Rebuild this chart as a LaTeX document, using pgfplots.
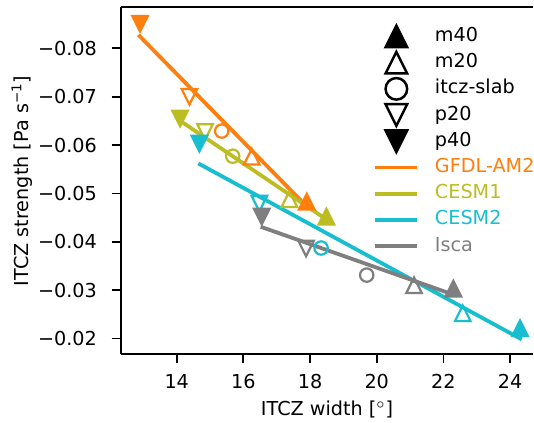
\documentclass[border=0pt]{standalone}
\usepackage{pgfplots}
\pgfplotsset{compat=1.18}
\usepackage{fontspec}
\setmainfont{DejaVu Sans}
\usetikzlibrary{calc}

\definecolor{gfdl}{HTML}{FF7F0E}
\definecolor{cesmone}{HTML}{BCBD22}
\definecolor{cesmtwo}{HTML}{17BECF}
\definecolor{isca}{HTML}{7F7F7F}

% matplotlib-like triangles (bbox centred, width = height)
\pgfdeclareplotmark{tu}{%
  \pgfpathmoveto{\pgfqpoint{0pt}{\pgfplotmarksize}}%
  \pgfpathlineto{\pgfqpoint{-\pgfplotmarksize}{-\pgfplotmarksize}}%
  \pgfpathlineto{\pgfqpoint{\pgfplotmarksize}{-\pgfplotmarksize}}%
  \pgfpathclose\pgfusepathqstroke}
\pgfdeclareplotmark{tu*}{%
  \pgfpathmoveto{\pgfqpoint{0pt}{\pgfplotmarksize}}%
  \pgfpathlineto{\pgfqpoint{-\pgfplotmarksize}{-\pgfplotmarksize}}%
  \pgfpathlineto{\pgfqpoint{\pgfplotmarksize}{-\pgfplotmarksize}}%
  \pgfpathclose\pgfusepathqfillstroke}
\pgfdeclareplotmark{td}{%
  \pgfpathmoveto{\pgfqpoint{0pt}{-\pgfplotmarksize}}%
  \pgfpathlineto{\pgfqpoint{-\pgfplotmarksize}{\pgfplotmarksize}}%
  \pgfpathlineto{\pgfqpoint{\pgfplotmarksize}{\pgfplotmarksize}}%
  \pgfpathclose\pgfusepathqstroke}
\pgfdeclareplotmark{td*}{%
  \pgfpathmoveto{\pgfqpoint{0pt}{-\pgfplotmarksize}}%
  \pgfpathlineto{\pgfqpoint{-\pgfplotmarksize}{\pgfplotmarksize}}%
  \pgfpathlineto{\pgfqpoint{\pgfplotmarksize}{\pgfplotmarksize}}%
  \pgfpathclose\pgfusepathqfillstroke}

\pgfplotsset{
  pt/.style={only marks, forget plot, mark size=3.9pt, line width=1.1pt,
    color=#1, mark options={solid, fill=#1}},
  fit/.style={forget plot, no marks, line width=1.9pt, color=#1},
  mk/.style={legend image code/.code={%
    \draw[line width=1.25pt, mark size=5.4pt, ##1] plot[only marks] coordinates {(10.5pt,0pt)};}},
  ln/.style={legend image code/.code={%
    \draw[##1, line width=1.9pt] (0pt,0pt) -- (21pt,0pt);}},
}

\begin{document}
\begin{tikzpicture}
\begin{axis}[
    scale only axis,
    width=206.3pt, height=173.5pt,
    xmin=12.32, xmax=24.7,
    ymin=-0.0885, ymax=-0.0167,
    y dir=reverse,
    axis y line*=left,
    tick pos=left,
    tick align=outside,
    major tick length=4.5pt,
    axis line style={line width=0.9pt},
    tick style={line width=0.9pt, black},
    font=\fontsize{9.6}{11.5}\selectfont,
    xtick={14,16,...,24},
    ytick={-0.08,-0.07,-0.06,-0.05,-0.04,-0.03,-0.02},
    yticklabels={−0.08,−0.07,−0.06,−0.05,−0.04,−0.03,−0.02},
    /pgf/number format/assume math mode=true,
    xticklabel style={anchor=north, inner sep=0pt, yshift=-5.4pt},
    yticklabel style={anchor=east, inner sep=0pt, xshift=-7.2pt},
    xlabel={ITCZ width [$^\circ$]},
    ylabel={ITCZ strength [Pa s\textsuperscript{−1}]},
    xlabel style={at={(axis description cs:0.5,-0.16)}, anchor=center},
    ylabel style={at={(axis description cs:-0.239,0.5)}, anchor=center},
    legend style={at={(axis description cs:0.6115,0.955)}, anchor=north west,
      draw=none, fill=none, inner sep=0pt, column sep=7.85pt, row sep=0pt,
      nodes={inner sep=0pt, text height=9.1pt, text depth=4pt}},
    legend cell align=left,
]

% GFDL-AM2
\addplot[fit=gfdl] coordinates {(12.85,-0.0828) (17.94,-0.0470)};
\addplot[pt=gfdl, mark=tu*] coordinates {(17.90,-0.0483)};
\addplot[pt=gfdl, mark=tu]  coordinates {(16.25,-0.0576)};
\addplot[pt=gfdl, mark=o, mark size=3.35pt] coordinates {(15.35,-0.0629)};
\addplot[pt=gfdl, mark=td]  coordinates {(14.38,-0.0700)};
\addplot[pt=gfdl, mark=td*] coordinates {(12.90,-0.0851)};

% CESM1
\addplot[fit=cesmone] coordinates {(14.15,-0.0648) (18.45,-0.0448)};
\addplot[pt=cesmone, mark=tu*] coordinates {(18.49,-0.0452)};
\addplot[pt=cesmone, mark=tu]  coordinates {(17.38,-0.0488)};
\addplot[pt=cesmone, mark=o, mark size=3.35pt] coordinates {(15.68,-0.0577)};
\addplot[pt=cesmone, mark=td]  coordinates {(14.85,-0.0627)};
\addplot[pt=cesmone, mark=td*] coordinates {(14.10,-0.0655)};

% CESM2
\addplot[fit=cesmtwo] coordinates {(14.65,-0.0562) (24.35,-0.0198)};
\addplot[pt=cesmtwo, mark=tu*] coordinates {(24.30,-0.0221)};
\addplot[pt=cesmtwo, mark=tu]  coordinates {(22.58,-0.0252)};
\addplot[pt=cesmtwo, mark=o, mark size=3.35pt] coordinates {(18.33,-0.0387)};
\addplot[pt=cesmtwo, mark=td]  coordinates {(16.48,-0.0479)};
\addplot[pt=cesmtwo, mark=td*] coordinates {(14.68,-0.0603)};

% Isca
\addplot[fit=isca] coordinates {(16.52,-0.0431) (22.20,-0.0293)};
\addplot[pt=isca, mark=tu*] coordinates {(22.30,-0.0303)};
\addplot[pt=isca, mark=tu]  coordinates {(21.12,-0.0310)};
\addplot[pt=isca, mark=o, mark size=3.35pt] coordinates {(19.70,-0.0331)};
\addplot[pt=isca, mark=td]  coordinates {(17.88,-0.0386)};
\addplot[pt=isca, mark=td*] coordinates {(16.55,-0.0452)};

% legend
\addlegendimage{mk, black, mark=tu*, fill=black}
\addlegendentry{m40}
\addlegendimage{mk, black, mark=tu}
\addlegendentry{m20}
\addlegendimage{mk, black, mark=o, mark size=4.8pt}
\addlegendentry{itcz-slab}
\addlegendimage{mk, black, mark=td}
\addlegendentry{p20}
\addlegendimage{mk, black, mark=td*, fill=black}
\addlegendentry{p40}
\addlegendimage{ln, gfdl}
\addlegendentry{\textcolor{gfdl}{GFDL-AM2}}
\addlegendimage{ln, cesmone}
\addlegendentry{\textcolor{cesmone}{CESM1}}
\addlegendimage{ln, cesmtwo}
\addlegendentry{\textcolor{cesmtwo}{CESM2}}
\addlegendimage{ln, isca}
\addlegendentry{\textcolor{isca}{Isca}}
\end{axis}
\pgfresetboundingbox
\path ($(current axis.south west)+(-60.35pt,-33.85pt)$) rectangle ($(current axis.north east)+(0.3pt,3.65pt)$);
\end{tikzpicture}
\end{document}
